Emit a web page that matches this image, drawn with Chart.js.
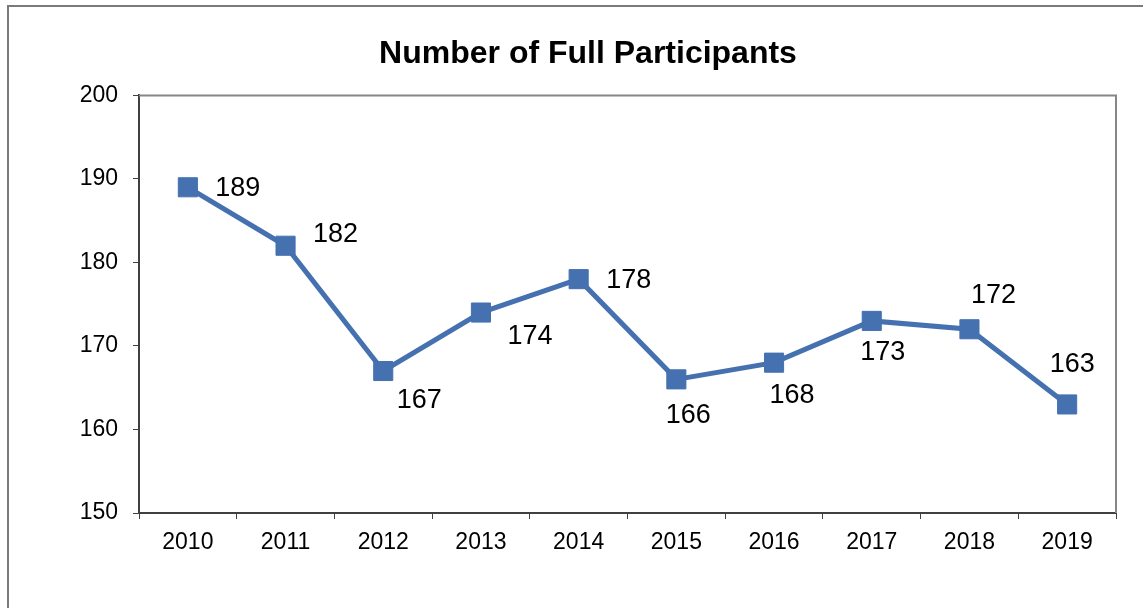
<!DOCTYPE html>
<html>
<head>
<meta charset="utf-8">
<script src="https://cdn.jsdelivr.net/npm/chart.js@4.4.1/dist/chart.umd.min.js"></script>
<style>
  html, body { margin: 0; padding: 0; background: #fff; }
  #wrap { position: relative; width: 1143px; height: 608px; overflow: hidden; }
  #frame { position: absolute; left: 7px; top: 5px; width: 1200px; height: 700px;
           border-left: 2px solid #7a7a7a; border-top: 2px solid #7a7a7a; }
  #chart { position: absolute; left: 0; top: 0; }
</style>
</head>
<body>
<div id="wrap">
  <div id="frame"></div>
  <canvas id="chart" width="1143" height="608"></canvas>
</div>
<script>
// Datos del gráfico
const YEARS = ['2010', '2011', '2012', '2013', '2014', '2015', '2016', '2017', '2018', '2019'];
const PARTICIPANTS = [189, 182, 167, 174, 178, 166, 168, 173, 172, 163];
const Y_MIN = 150;
const Y_MAX = 200;
const Y_STEP = 10;

// Desplazamiento de cada etiqueta respecto a su punto (px)
const LABEL_OFFSETS = [[50, 0], [50, -12], [36, 29], [49, 23], [50, 0],
                       [12, 35], [18, 32], [11, 31], [24, -35], [5, -41]];

const FONT = "'Liberation Sans', Arial, sans-serif";
const LINE_COLOR = '#4571b0';

// Etiquetas de valores junto a cada punto
const valueLabels = {
    id: 'valueLabels',
    afterDatasetsDraw(chart) {
        const ctx = chart.ctx;
        const meta = chart.getDatasetMeta(0);
        ctx.save();
        ctx.font = '27px ' + FONT;
        ctx.fillStyle = '#000';
        ctx.textAlign = 'center';
        ctx.textBaseline = 'middle';
        meta.data.forEach((pt, i) => {
            const [dx, dy] = LABEL_OFFSETS[i];
            ctx.fillText(String(PARTICIPANTS[i]), pt.x + dx, pt.y + dy + 1);
        });
        ctx.restore();
    }
};

// Borde superior y derecho del área del gráfico
const plotFrame = {
    id: 'plotFrame',
    beforeDatasetsDraw(chart) {
        const { ctx, chartArea: a } = chart;
        ctx.save();
        ctx.strokeStyle = '#868686';
        ctx.lineWidth = 2;
        ctx.beginPath();
        ctx.moveTo(a.left, a.top);
        ctx.lineTo(a.right, a.top);
        ctx.lineTo(a.right, a.bottom);
        ctx.stroke();
        ctx.restore();
    }
};

new Chart(document.getElementById('chart'), {
    type: 'line',
    data: {
        labels: YEARS,
        datasets: [{
            label: 'Participants',
            data: PARTICIPANTS,
            borderColor: LINE_COLOR,
            backgroundColor: LINE_COLOR,
            borderWidth: 5,
            pointStyle: 'rect',
            pointRadius: 13.5,
            pointBorderWidth: 1,
            pointBorderColor: LINE_COLOR,
            tension: 0,
            fill: false
        }]
    },
    options: {
        responsive: false,
        animation: false,
        layout: { padding: { left: 60, right: 27, top: 0, bottom: 0 } },
        plugins: {
            legend: { display: false },
            tooltip: { enabled: false },
            title: {
                display: true,
                text: 'Number of Full Participants',
                color: '#000',
                font: { family: FONT, size: 32, weight: 'bold' },
                padding: { top: 35, bottom: 22 }
            }
        },
        scales: {
            x: {
                offset: true,
                grid: { display: true, drawOnChartArea: false, drawTicks: true, tickLength: 6, color: '#404040', offset: true },
                border: { color: '#404040', width: 2 },
                ticks: { color: '#000', font: { family: FONT, size: 23 }, padding: 10, maxRotation: 0 },
                afterFit(scale) { scale.height = 95; }
            },
            y: {
                min: Y_MIN,
                max: Y_MAX,
                grid: { display: true, drawOnChartArea: false, drawTicks: true, tickLength: 6, color: '#404040' },
                border: { color: '#404040', width: 2 },
                ticks: { stepSize: Y_STEP, color: '#000', font: { family: FONT, size: 23 }, padding: 15 },
                afterFit(scale) { scale.width = 79; }
            }
        }
    },
    plugins: [plotFrame, valueLabels]
});
</script>
</body>
</html>
